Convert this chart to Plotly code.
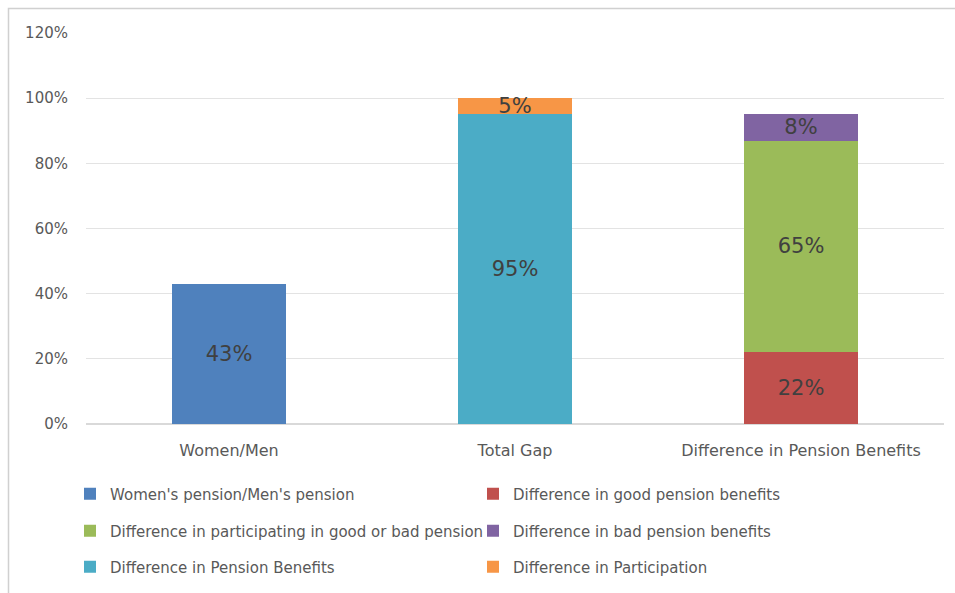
import plotly.graph_objects as go

categories = ["Women/Men", "Total Gap", "Difference in Pension Benefits"]

series_names = [
    "Women's pension/Men's pension",
    "Difference in good pension benefits",
    "Difference in participating in good or bad pension",
    "Difference in bad pension benefits",
    "Difference in Pension Benefits",
    "Difference in Participation",
]
series_category = [
    "Women/Men",
    "Difference in Pension Benefits",
    "Difference in Pension Benefits",
    "Difference in Pension Benefits",
    "Total Gap",
    "Total Gap",
]
series_values = [0.43, 0.22, 0.65, 0.08, 0.95, 0.05]
series_colors = ["#4F81BD", "#C0504D", "#9BBB59", "#8064A2", "#4BACC6", "#F79646"]
legend_ids = ["legend", "legend", "legend2", "legend2", "legend3", "legend3"]

y_ticks = [0, 0.2, 0.4, 0.6, 0.8, 1.0, 1.2]

FONT = "'DejaVu Sans', sans-serif"
fig = go.Figure()
for name, cat, val, col, lg in zip(series_names, series_category, series_values, series_colors, legend_ids):
    fig.add_trace(go.Bar(
        name=name, x=[cat], y=[val], marker=dict(color=col, line=dict(width=0)),
        text=[f"{round(val*100)}%"], textposition="inside", insidetextanchor="middle",
        textfont=dict(size=21, color="#404040", family=FONT),
        width=0.4, legend=lg, cliponaxis=False,
    ))

W, H = 955, 593
ml, mr, mt, mb = 86, 11, 33, 168
pw = W - ml - mr
ph = H - mt - mb

def px_to_paper_x(px):
    return (px - ml) / pw

def px_to_paper_y(py):
    return (H - mb - py) / ph

leg_common = dict(orientation="h", entrywidth=358, entrywidthmode="pixels",
                  font=dict(size=15, color="#595959", family=FONT),
                  xanchor="left", yanchor="middle", bgcolor="rgba(0,0,0,0)",
                  itemclick=False, traceorder="normal")
lx = px_to_paper_x(70)
fig.update_layout(
    width=W, height=H,
    margin=dict(l=ml, r=mr, t=mt, b=mb),
    barmode="stack",
    plot_bgcolor="white", paper_bgcolor="white",
    showlegend=True,
    uniformtext=dict(minsize=21, mode="show"),
    legend=dict(x=lx, y=px_to_paper_y(494), **leg_common),
    legend2=dict(x=lx, y=px_to_paper_y(531), **leg_common),
    legend3=dict(x=lx, y=px_to_paper_y(567), **leg_common),
    xaxis=dict(categoryorder="array", categoryarray=categories, showline=False,
               tickfont=dict(size=16, color="#595959", family=FONT), ticks="", ticklen=0,
               ticklabelstandoff=15),
    yaxis=dict(range=[0, 1.2], tickvals=y_ticks, tickformat=".0%", showgrid=True,
               gridcolor="#E3E3E3", gridwidth=1, zeroline=True, zerolinecolor="#D9D9D9",
               tickfont=dict(size=15, color="#595959", family=FONT), ticks="", ticklabelstandoff=17),
    shapes=[dict(type="rect", xref="paper", yref="paper",
                 x0=px_to_paper_x(8.5), y0=px_to_paper_y(620), x1=px_to_paper_x(990), y1=px_to_paper_y(8.5),
                 line=dict(color="#D0D0D0", width=1.5), fillcolor="rgba(0,0,0,0)", layer="below")],
)

fig.write_html("out.html")
